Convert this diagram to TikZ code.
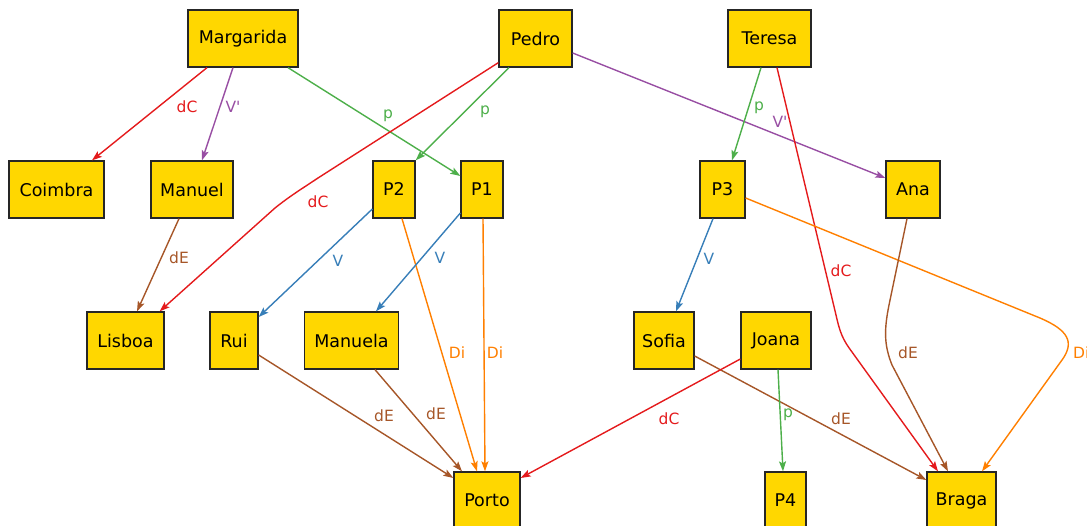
\documentclass[tikz,border=0pt]{standalone}
\usepackage{fontspec}
\setmainfont{DejaVu Sans}
\newfontfamily\lblfont{DejaVu Sans}
\usetikzlibrary{arrows.meta}
\definecolor{gold}{HTML}{FFD700}
\definecolor{cred}{HTML}{E41A1C}
\definecolor{cpur}{HTML}{984EA3}
\definecolor{cgrn}{HTML}{4DAF4A}
\definecolor{cblu}{HTML}{377EB8}
\definecolor{corg}{HTML}{FF7F00}
\definecolor{cbrn}{HTML}{A65628}
\tikzset{
  box/.style={draw=black!85, line width=1.3pt, fill=gold, minimum height=57pt, inner sep=0pt, font=\fontsize{17.5}{20}\selectfont},
  edge/.style={line width=1.4pt, -{Stealth[length=10pt,width=7pt,inset=2pt]}},
  lbl/.style={inner sep=0pt, font=\lblfont\fontsize{15.5}{18}\selectfont},
  ered/.style={edge, cred}, epur/.style={edge, cpur}, egrn/.style={edge, cgrn},
  eblu/.style={edge, cblu}, eorg/.style={edge, corg}, ebrn/.style={edge, cbrn},
}
\begin{document}
\begin{tikzpicture}[x=1pt,y=-1pt]
\useasboundingbox (0,0) rectangle (1087,525);
% nodes
\node[box, minimum width=110pt] (Margarida) at (243,38.5) {Margarida};
\node[box, minimum width=73pt] (Pedro) at (535.5,38.5) {Pedro};
\node[box, minimum width=83pt] (Teresa) at (769.5,38.5) {Teresa};
\node[box, minimum width=95pt] (Coimbra) at (56.5,189.5) {Coimbra};
\node[box, minimum width=82pt] (Manuel) at (192,189.5) {Manuel};
\node[box, minimum width=42pt] (P2) at (394,189.5) {P2};
\node[box, minimum width=42pt] (P1) at (482,189.5) {P1};
\node[box, minimum width=45pt] (P3) at (722.5,189.5) {P3};
\node[box, minimum width=54pt] (Ana) at (913,189.5) {Ana};
\node[box, minimum width=77pt] (Lisboa) at (125.5,340.5) {Lisboa};
\node[box, minimum width=48pt] (Rui) at (234,340.5) {Rui};
\node[box, minimum width=94pt] (Manuela) at (351.5,340.5) {Manuela};
\node[box, minimum width=60pt] (Sofia) at (664,340.5) {Sofia};
\node[box, minimum width=70pt] (Joana) at (776,340.5) {Joana};
\node[box, minimum width=66pt] (Porto) at (487,500.5) {Porto};
\node[box, minimum width=41pt] (P4) at (785.5,500.5) {P4};
\node[box, minimum width=69pt] (Braga) at (961.5,500.5) {Braga};
% edges
\draw[ered] ([xshift=-36pt]Margarida.south) -- ([xshift=35.5pt]Coimbra.north);
\draw[epur] ([xshift=-10pt]Margarida.south) -- ([xshift=10pt]Manuel.north);
\draw[egrn] ([xshift=45pt]Margarida.south) -- ([yshift=13.5pt]P1.west);
\draw[egrn] ([xshift=-26.5pt]Pedro.south) -- (P2.north east);
\draw[ered] ([yshift=5pt]Pedro.south west) -- (318,178) .. controls (300,190) and (290,196) .. (275,208) -- ([xshift=-5pt]Lisboa.north east);
\draw[epur] ([yshift=-14.5pt]Pedro.east) -- ([yshift=11.5pt]Ana.west);
\draw[egrn] ([xshift=-8.5pt]Teresa.south) -- ([xshift=9.5pt]P3.north);
\draw[ered] ([xshift=7.5pt]Teresa.south) -- (836,315) .. controls (840,333) and (843,340) .. (852,352) -- ([xshift=-23.5pt]Braga.north);
\draw[ebrn] ([xshift=-13pt]Manuel.south) -- ([xshift=11.5pt]Lisboa.north);
\draw[eblu] ([yshift=-19.5pt]P2.west) -- ([yshift=23.5pt]Rui.east);
\draw[eorg] ([xshift=8pt]P2.south) -- ([xshift=-10pt]Porto.north);
\draw[eblu] ([yshift=-23.5pt]P1.west) -- ([xshift=24.5pt]Manuela.north);
\draw[eorg] ([xshift=1pt]P1.south) -- ([xshift=-2pt]Porto.north);
\draw[eblu] ([xshift=-9.5pt]P3.south) -- ([xshift=12pt]Sofia.north);
\draw[eorg] ([yshift=-8.5pt]P3.east) -- (1040,318) .. controls (1068,330) and (1075,342) .. (1062,360) -- ([xshift=20.5pt]Braga.north);
\draw[ebrn] ([xshift=-6pt]Ana.south) -- (889,305) .. controls (884,330) and (884,345) .. (892,365) -- ([xshift=-13.5pt]Braga.north);
\draw[ebrn] ([yshift=-14.5pt]Rui.east) -- ([yshift=22.5pt]Porto.west);
\draw[ebrn] ([xshift=23.5pt]Manuela.south) -- ([xshift=-25pt]Porto.north);
\draw[ebrn] ([yshift=-15.5pt]Sofia.east) -- ([yshift=20.5pt]Braga.west);
\draw[ered] ([yshift=-18.5pt]Joana.west) -- ([yshift=22.5pt]Porto.east);
\draw[egrn] ([xshift=2pt]Joana.south) -- ([xshift=-2.5pt]P4.north);
% labels
\node[lbl, cred] (l1) at (187,107) {dC};
\node[lbl, cpur] (l2) at (233,107) {V'};
\node[lbl, cgrn] (l3) at (388,116) {p};
\node[lbl, cgrn] (l4) at (485,112) {p};
\node[lbl, cred] (l5) at (318,202) {dC};
\node[lbl, cpur] (l6) at (780,122) {V'};
\node[lbl, cgrn] (l7) at (759,108) {p};
\node[lbl, cred] (l8) at (841,271) {dC};
\node[lbl, cbrn] (l9) at (179,258) {dE};
\node[lbl, cblu] (l10) at (338,261) {V};
\node[lbl, cblu] (l11) at (440,258) {V};
\node[lbl, cblu] (l12) at (709,259) {V};
\node[lbl, corg] (l13) at (457,353) {Di};
\node[lbl, corg] (l14) at (495,353) {Di};
\node[lbl, corg, anchor=west] (l15) at (1073,353) {Di};
\node[lbl, cbrn] (l16) at (908,353) {dE};
\node[lbl, cbrn] (l17) at (384,416) {dE};
\node[lbl, cbrn] (l18) at (436,414) {dE};
\node[lbl, cred] (l19) at (669,419) {dC};
\node[lbl, cgrn] (l20) at (788,415) {p};
\node[lbl, cbrn] (l21) at (841,419) {dE};
\end{tikzpicture}
\end{document}
